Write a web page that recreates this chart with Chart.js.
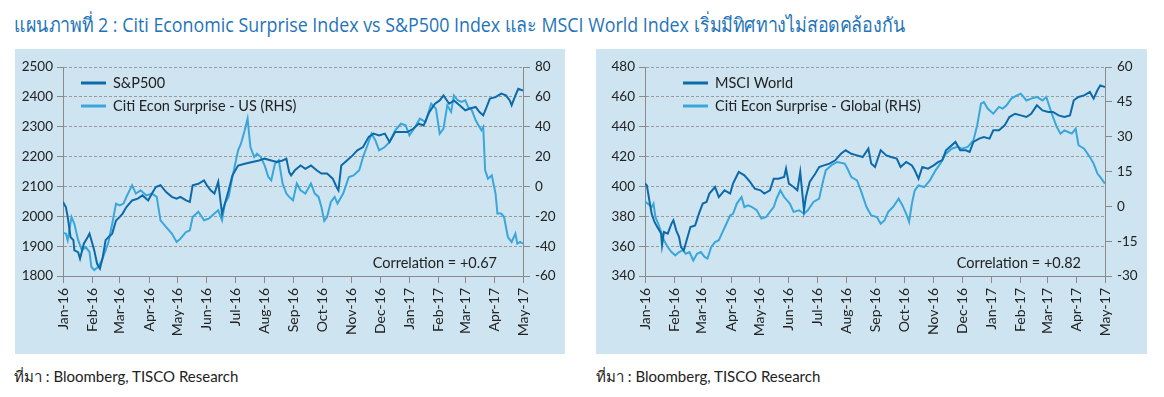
<!DOCTYPE html>
<html>
<head>
<meta charset="utf-8">
<script src="https://cdn.jsdelivr.net/npm/chart.js@4.4.1/dist/chart.umd.min.js"></script>
<style>
  body { margin: 0; width: 1164px; height: 397px; background: #fff; position: relative; overflow: hidden; font-family: Lato, sans-serif; }
  .title { position: absolute; left: 14px; top: 9px; font-family: "Open Sans", "Noto Sans", sans-serif; font-size: 20px; color: #1f74b9; white-space: nowrap; transform-origin: 0 50%; }
  .panel { position: absolute; top: 49px; height: 305px; background: #cee5f1; }
  #p1 { left: 15px; width: 550px; }
  #p2 { left: 596px; width: 551px; }
  .src { position: absolute; top: 365px; font-size: 15px; color: #222; white-space: nowrap; }
</style>
</head>
<body>
<div class="title" id="title">แผนภาพที่ 2 : Citi Economic Surprise Index vs S&amp;P500 Index และ MSCI World Index เริ่มมีทิศทางไม่สอดคล้องกัน</div>
<div class="panel" id="p1"><canvas id="c1" width="550" height="305"></canvas></div>
<div class="panel" id="p2"><canvas id="c2" width="551" height="305"></canvas></div>
<div class="src" style="left:14px">ที่มา : Bloomberg, TISCO Research</div>
<div class="src" style="left:596px">ที่มา : Bloomberg, TISCO Research</div>
<script>
// x axis: days since 1 Jan 2016
const monthTicks = [0, 31, 60, 91, 121, 152, 182, 213, 244, 274, 305, 335, 366, 397, 425, 456, 486];
const monthLabels = ['Jan-16', 'Feb-16', 'Mar-16', 'Apr-16', 'May-16', 'Jun-16', 'Jul-16', 'Aug-16',
  'Sep-16', 'Oct-16', 'Nov-16', 'Dec-16', 'Jan-17', 'Feb-17', 'Mar-17', 'Apr-17', 'May-17'];

const spxTicks = [1800, 1900, 2000, 2100, 2200, 2300, 2400, 2500];
const usRhsTicks = [-60, -40, -20, 0, 20, 40, 60, 80];
const msciTicks = [340, 360, 380, 400, 420, 440, 460, 480];
const globalRhsTicks = [-30, -15, 0, 15, 30, 45, 60];

const spxDays = [
  0, 3, 5, 8, 11, 12, 16, 18, 22, 26,
  28, 30, 33, 36, 39, 42, 45, 48, 52, 56,
  60, 63, 67, 73, 79, 84, 90, 94, 98, 103,
  109, 115, 120, 124, 130, 134, 137, 143, 149, 152,
  156, 160, 164, 168, 171, 175, 179, 185, 192, 200,
  207, 213, 220, 226, 232, 236, 239, 241, 245, 251,
  256, 262, 268, 273, 279, 285, 289, 291, 294, 300,
  306, 311, 317, 323, 328, 334, 340, 345, 351, 357,
  364, 370, 376, 381, 387, 393, 398, 402, 408, 413,
  419, 425, 430, 436, 440, 444, 447, 451, 457, 463,
  468, 472, 474, 478, 481, 486];
const spxValues = [
  2048, 2031, 1998, 1930, 1920, 1886, 1880, 1858, 1908, 1930,
  1942, 1920, 1886, 1841, 1825, 1863, 1920, 1930, 1942, 1986,
  1998, 2009, 2031, 2053, 2059, 2070, 2053, 2076, 2098, 2104,
  2081, 2065, 2059, 2065, 2053, 2048, 2104, 2109, 2120, 2104,
  2087, 2076, 2115, 2009, 2042, 2087, 2137, 2170, 2176, 2182,
  2187, 2193, 2187, 2182, 2187, 2193, 2148, 2137, 2154, 2170,
  2159, 2170, 2154, 2143, 2143, 2126, 2098, 2087, 2170, 2187,
  2204, 2221, 2232, 2266, 2277, 2271, 2277, 2249, 2282, 2282,
  2282, 2293, 2310, 2304, 2349, 2377, 2388, 2405, 2377, 2388,
  2372, 2355, 2361, 2366, 2349, 2338, 2361, 2394, 2399, 2411,
  2405, 2388, 2372, 2405, 2427, 2421];

const usSurpriseDays = [
  0, 3, 5, 9, 12, 16, 20, 24, 28, 30,
  33, 37, 41, 45, 48, 52, 56, 60, 64, 67,
  73, 77, 82, 88, 94, 99, 103, 109, 115, 120,
  124, 130, 134, 137, 143, 149, 154, 160, 164, 168,
  171, 175, 179, 185, 188, 192, 195, 198, 202, 205,
  209, 213, 217, 220, 224, 228, 232, 236, 239, 243,
  247, 251, 256, 262, 266, 270, 273, 276, 279, 283,
  287, 290, 296, 302, 307, 313, 317, 321, 326, 330,
  334, 340, 345, 351, 357, 362, 366, 372, 377, 383,
  389, 394, 398, 402, 406, 410, 413, 417, 421, 425,
  428, 432, 436, 440, 442, 444, 446, 449, 453, 457,
  459, 463, 466, 470, 474, 478, 480, 483, 486];
const usSurpriseValues = [
  -31.2, -31.6, -36, -20.5, -25, -36, -42.8, -40.6, -43.9, -54,
  -56, -54, -49.5, -42.8, -37.2, -25, -11.5, -12.7, -11.5, -7,
  0.7, -4.8, -2.6, -6, -4.8, -7, -22.7, -27.2, -31.6, -37.2,
  -35, -30.5, -29.4, -20.5, -17, -22.7, -21.6, -18.2, -16, -22.7,
  -11.5, -7, 6.3, 24.2, 28.6, 37.6, 45.4, 26.4, 19.7, 22,
  19.7, 14.1, 6.3, 4.1, 15.3, 17.5, 1.9, -4.8, -7, -9.3,
  1.9, -2.6, -4.8, 1.9, -4.8, -7, -13.8, -23.1, -20.5, -10.4,
  -7, -11.5, -4.8, 6.3, 7.4, 10.8, 19.7, 26.4, 35.3, 30.9,
  24.2, 26.4, 29.8, 37.6, 42, 41, 34.2, 39.8, 45.4, 43.2,
  55.4, 52.1, 35.3, 38.7, 54.3, 49.9, 61, 57.7, 56.6, 57.7,
  53.2, 51, 44.3, 39.8, 37.6, 39.8, 10.8, 5.2, 7.4, -4.8,
  -18.2, -18.2, -20.5, -33.9, -37.2, -31.6, -38.3, -37.2, -38.3];

const msciDays = [
  0, 2, 4, 7, 10, 13, 17, 18, 20, 24,
  28, 30, 33, 36, 38, 41, 45, 48, 53, 57,
  61, 65, 68, 74, 78, 84, 90, 93, 99, 105,
  111, 116, 122, 126, 132, 136, 141, 147, 149, 152,
  157, 161, 164, 168, 170, 174, 180, 184, 189, 195,
  201, 207, 212, 218, 224, 230, 236, 239, 243, 249,
  255, 260, 266, 270, 276, 282, 285, 289, 293, 299,
  305, 310, 314, 318, 324, 328, 333, 339, 343, 347,
  353, 358, 364, 368, 374, 380, 385, 391, 397, 403,
  408, 414, 420, 426, 431, 437, 443, 449, 453, 458,
  464, 470, 474, 478, 481, 486];
const msciValues = [
  401.9, 400.7, 392.9, 381.8, 376.2, 372.8, 368.4, 360.6, 369.5, 368.4,
  375.1, 377.3, 370.6, 366.1, 359.4, 357.2, 366.1, 372.8, 373.9, 381.8,
  388.5, 389.6, 395.2, 399.6, 392.9, 397.4, 395.2, 401.9, 409.7, 407.4,
  403, 398.5, 397.4, 395.2, 397.4, 405.2, 405.2, 406.3, 411.9, 401.9,
  399.6, 397.4, 409.7, 384, 392.9, 403, 408.6, 413, 414.1, 415.3,
  417.5, 421.9, 424.2, 421.9, 420.8, 419.7, 425.3, 415.3, 413, 424.2,
  420.8, 419.7, 418.6, 413, 416.4, 414.1, 410.8, 405.2, 413, 411.9,
  414.1, 416.4, 417.5, 424.2, 427.5, 429.8, 424.2, 424.2, 423.1, 429.8,
  432, 433.1, 432, 437.6, 437.6, 440.9, 446.5, 448.7, 447.6, 446.5,
  448.7, 454.3, 450.9, 449.9, 449.9, 447.6, 446.5, 447.6, 457.7, 459.9,
  461, 463.3, 458.8, 464.4, 467.7, 466.6];

const globalSurpriseDays = [
  0, 3, 7, 9, 11, 14, 17, 20, 24, 28,
  32, 36, 40, 43, 47, 51, 55, 59, 63, 66,
  70, 74, 78, 82, 86, 90, 93, 97, 102, 105,
  109, 113, 118, 123, 128, 132, 136, 139, 143, 147,
  153, 157, 163, 168, 172, 178, 184, 187, 191, 197,
  203, 211, 214, 218, 224, 228, 234, 239, 245, 249,
  253, 257, 262, 268, 272, 276, 279, 282, 285, 289,
  295, 301, 307, 312, 318, 324, 330, 335, 341, 347,
  351, 355, 358, 362, 368, 374, 378, 382, 387, 393,
  397, 403, 408, 414, 420, 424, 428, 431, 435, 439,
  443, 447, 451, 455, 458, 464, 470, 474, 478, 481,
  486];
const globalSurpriseValues = [
  1.9, 1.2, -0.3, 1.2, -4.6, -7.5, -11, -14.6, -17.5, -19.7,
  -21.1, -19.7, -18.9, -20.4, -19.7, -23.3, -20.4, -19.7, -21.8, -22.5,
  -17.5, -15.4, -14.6, -11, -7.5, -3.9, -3.2, 1.2, 4, -0.3,
  0.4, -0.3, -1.7, -5.3, -4.6, -2.4, -0.3, 3.3, 6.9, 4,
  1.2, -2.4, -1.7, -3.2, -1.7, 1.9, 3.3, 9, 15.5, 17.7,
  19.1, 18.4, 16.2, 12.6, 11.2, 6.9, -0.3, -3.9, -4.6, -7.5,
  -6.1, -2.4, -0.3, 3.3, 0.4, -3.2, -6.7, 1.2, 6.9, 9,
  8.3, 11.2, 15.5, 18.4, 22.7, 24.8, 25.6, 24.8, 25.6, 28.4,
  34.9, 44.2, 44.9, 42.1, 39.9, 42.8, 42.1, 43.5, 46.4, 47.8,
  48.5, 45.6, 46.4, 47.1, 45.6, 47.1, 42.1, 38.5, 34.2, 31.3,
  32.7, 32, 31.3, 33.4, 26.3, 24.8, 21.2, 18.4, 14.1, 12.6,
  9.8];

const DARK = '#0d6aa9';
const LIGHT = '#3aa6da';
const AXIS = '#8a8a8a';
const FONT = 'Lato, sans-serif';

// squeeze the title to the width it has in the original layout
const titleEl = document.getElementById('title');
titleEl.style.transform = 'scaleX(' + (891 / titleEl.getBoundingClientRect().width) + ')';

function pts(days, values) {
  return days.map((d, i) => ({ x: d, y: values[i] }));
}

// legend + correlation note drawn inside the plot
const notes = {
  id: 'notes',
  afterDraw(chart, args, opts) {
    const { ctx, chartArea } = chart;
    ctx.save();
    ctx.font = '14.5px ' + FONT;
    ctx.fillStyle = '#222';
    ctx.textBaseline = 'middle';
    ctx.lineWidth = 3;
    opts.items.forEach((it, i) => {
      const y = chartArea.top + 16 + i * 23;
      const x = chartArea.left + opts.offset;
      ctx.strokeStyle = it.color;
      ctx.beginPath();
      ctx.moveTo(x, y);
      ctx.lineTo(x + 25, y);
      ctx.stroke();
      ctx.fillText(it.text, x + 32, y);
    });
    ctx.textAlign = 'right';
    ctx.fillText(opts.corr, chartArea.right - opts.corrGap, chartArea.bottom - 13);
    ctx.restore();
  }
};

function makeChart(id, cfg) {
  new Chart(document.getElementById(id), {
    type: 'line',
    data: {
      datasets: [
        { label: cfg.leftName, data: pts(cfg.leftDays, cfg.leftValues), yAxisID: 'y',
          borderColor: DARK, borderWidth: 2, pointRadius: 0, tension: 0 },
        { label: cfg.rightName, data: pts(cfg.rightDays, cfg.rightValues), yAxisID: 'y2',
          borderColor: LIGHT, borderWidth: 2, pointRadius: 0, tension: 0 }
      ]
    },
    options: {
      responsive: false,
      animation: false,
      devicePixelRatio: 1,
      layout: { padding: { top: 18, left: 0, right: 0, bottom: 0 } },
      plugins: {
        legend: { display: false },
        tooltip: { enabled: false },
        notes: {
          offset: cfg.legendOffset,
          corr: cfg.corr,
          corrGap: cfg.corrGap,
          items: [{ text: cfg.leftName, color: DARK }, { text: cfg.rightName, color: LIGHT }]
        }
      },
      scales: {
        x: {
          type: 'linear',
          min: monthTicks[0],
          max: monthTicks[monthTicks.length - 1],
          afterBuildTicks: (scale) => { scale.ticks = monthTicks.map(v => ({ value: v })); },
          afterFit: (scale) => { scale.height = 78; },
          grid: { drawOnChartArea: false, tickLength: 7, tickColor: AXIS },
          border: { color: AXIS },
          ticks: {
            autoSkip: false, minRotation: 90, maxRotation: 90, padding: 5,
            color: '#222', font: { family: FONT, size: 14 },
            callback: (v, i) => monthLabels[i]
          }
        },
        y: {
          position: 'left',
          min: cfg.leftTicks[0],
          max: cfg.leftTicks[cfg.leftTicks.length - 1],
          afterFit: (scale) => { scale.width = cfg.leftWidth; },
          grid: { color: '#9a9a9a', tickLength: 6, tickColor: AXIS, tickBorderDash: [] },
          border: { color: AXIS, dash: [3, 2] },
          ticks: {
            stepSize: cfg.leftTicks[1] - cfg.leftTicks[0], padding: 4,
            color: '#222', font: { family: FONT, size: 13.5 },
            callback: (v) => String(v)
          }
        },
        y2: {
          position: 'right',
          min: cfg.rightTicks[0],
          max: cfg.rightTicks[cfg.rightTicks.length - 1],
          afterFit: (scale) => { scale.width = cfg.rightWidth; },
          grid: { drawOnChartArea: false, tickLength: 7, tickColor: AXIS },
          border: { color: AXIS },
          ticks: {
            stepSize: cfg.rightTicks[1] - cfg.rightTicks[0], padding: 5,
            color: '#222', font: { family: FONT, size: 13.5 },
            callback: (v) => String(v)
          }
        }
      }
    },
    plugins: [notes]
  });
}

makeChart('c1', {
  leftName: 'S&P500', rightName: 'Citi Econ Surprise - US (RHS)',
  leftDays: spxDays, leftValues: spxValues,
  rightDays: usSurpriseDays, rightValues: usSurpriseValues,
  leftTicks: spxTicks, rightTicks: usRhsTicks,
  leftWidth: 48, rightWidth: 42,
  legendOffset: 18, corr: 'Correlation = +0.67', corrGap: 26
});

makeChart('c2', {
  leftName: 'MSCI World', rightName: 'Citi Econ Surprise - Global (RHS)',
  leftDays: msciDays, leftValues: msciValues,
  rightDays: globalSurpriseDays, rightValues: globalSurpriseValues,
  leftTicks: msciTicks, rightTicks: globalRhsTicks,
  leftWidth: 49, rightWidth: 42,
  legendOffset: 38, corr: 'Correlation = +0.82', corrGap: 24
});
</script>
</body>
</html>
